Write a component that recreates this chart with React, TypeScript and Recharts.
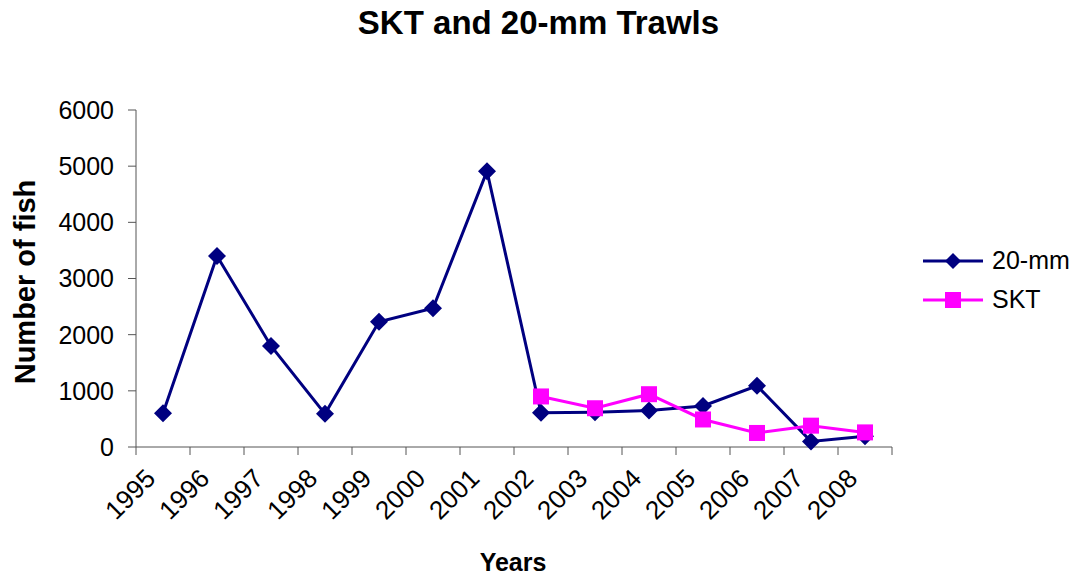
import { Line, LineChart, XAxis, YAxis } from "recharts";

const YEARS = ["1995", "1996", "1997", "1998", "1999", "2000", "2001", "2002", "2003", "2004", "2005", "2006", "2007", "2008"];
const MM_20 = [600, 3400, 1800, 590, 2230, 2470, 4910, 610, 620, 650, 730, 1090, 100, 190];
const SKT = [null, null, null, null, null, null, null, 900, 690, 940, 490, 250, 380, 260];
const Y_TICKS = [0, 1000, 2000, 3000, 4000, 5000, 6000];

const NAVY = "#000080";
const MAGENTA = "#FF00FF";
const AXIS = "#555555";
const FONT = "'Liberation Sans', Arial, sans-serif";

// points sit in the middle of each year's slot, tick marks on the slot edges
const data = YEARS.map((year, i) => ({ pos: i + 0.5, year, mm: MM_20[i], skt: SKT[i] }));
const EDGE_TICKS = [...YEARS.map((_, i) => i), YEARS.length];
const LABEL_TICKS = data.map((d) => d.pos);

const Diamond = ({ cx, cy, size = 9 }: any) => {
  if (cx == null || cy == null) return <g />;
  return (
    <path
      d={`M${cx},${cy - size} L${cx + size},${cy} L${cx},${cy + size} L${cx - size},${cy} Z`}
      fill={NAVY}
    />
  );
};

const Square = ({ cx, cy, size = 8 }: any) => {
  if (cx == null || cy == null) return <g />;
  return <rect x={cx - size} y={cy - size} width={size * 2} height={size * 2} fill={MAGENTA} />;
};

const YearTick = ({ x, y, payload }: any) => {
  const idx = Math.floor(payload.value);
  return (
    <g transform={`translate(${x - 6},${y + 17})`}>
      <text x={0} y={0} textAnchor="end" transform="rotate(-45)" fontSize={26} fontFamily={FONT} fill="#000">
        {YEARS[idx]}
      </text>
    </g>
  );
};

const EmptyTick = () => <text />;

export default function App() {
  return (
    <div style={{ position: "absolute", left: 0, top: 0, width: 1077, height: 577, background: "#fff", fontFamily: FONT }}>
      <div
        style={{
          position: "absolute",
          left: 0,
          width: 1077,
          top: 4,
          textAlign: "center",
          fontWeight: "bold",
          fontSize: 33,
        }}
      >
        SKT and 20-mm Trawls
      </div>
      <div
        style={{
          position: "absolute",
          left: 25,
          top: 282,
          transform: "translate(-50%, -50%) rotate(-90deg)",
          whiteSpace: "nowrap",
          fontWeight: "bold",
          fontSize: 29,
        }}
      >
        Number of fish
      </div>
      <div
        style={{
          position: "absolute",
          left: 513,
          top: 562,
          transform: "translate(-50%, -50%)",
          fontWeight: "bold",
          fontSize: 25,
          lineHeight: "26px",
        }}
      >
        Years
      </div>

      <LineChart
        width={1077}
        height={577}
        data={data}
        margin={{ top: 110, right: 185, left: 0, bottom: 30 }}
      >
        <XAxis
          xAxisId="edges"
          dataKey="pos"
          type="number"
          domain={[0, YEARS.length]}
          ticks={EDGE_TICKS}
          tick={EmptyTick}
          tickSize={8}
          height={8}
          stroke={AXIS}
          allowDataOverflow
        />
        <XAxis
          xAxisId="labels"
          dataKey="pos"
          type="number"
          domain={[0, YEARS.length]}
          ticks={LABEL_TICKS}
          tick={YearTick}
          axisLine={false}
          tickLine={false}
          height={92}
          interval={0}
        />
        <YAxis
          domain={[0, 6000]}
          ticks={Y_TICKS}
          width={136}
          tickSize={8}
          tickMargin={14}
          stroke={AXIS}
          tick={{ fill: "#000", fontSize: 25, fontFamily: FONT }}
          interval={0}
        />
        <Line
          xAxisId="edges"
          dataKey="mm"
          stroke={NAVY}
          strokeWidth={3}
          dot={(p: any) => <Diamond key={`mm-${p.index}`} cx={p.cx} cy={p.cy} />}
          activeDot={false}
          isAnimationActive={false}
        />
        <Line
          xAxisId="edges"
          dataKey="skt"
          stroke={MAGENTA}
          strokeWidth={3}
          dot={(p: any) => <Square key={`skt-${p.index}`} cx={p.cx} cy={p.cy} />}
          activeDot={false}
          isAnimationActive={false}
        />
      </LineChart>

      <div style={{ position: "absolute", left: 922, top: 241, fontSize: 25 }}>
        {[
          { name: "20-mm", color: NAVY, Icon: Diamond },
          { name: "SKT", color: MAGENTA, Icon: Square },
        ].map(({ name, color, Icon }) => (
          <div key={name} style={{ display: "flex", alignItems: "center", height: 39 }}>
            <svg width={62} height={20} style={{ marginRight: 8 }}>
              <line x1={1} y1={10} x2={61} y2={10} stroke={color} strokeWidth={3} />
              <Icon cx={31} cy={10} size={8} />
            </svg>
            <span>{name}</span>
          </div>
        ))}
      </div>
    </div>
  );
}
